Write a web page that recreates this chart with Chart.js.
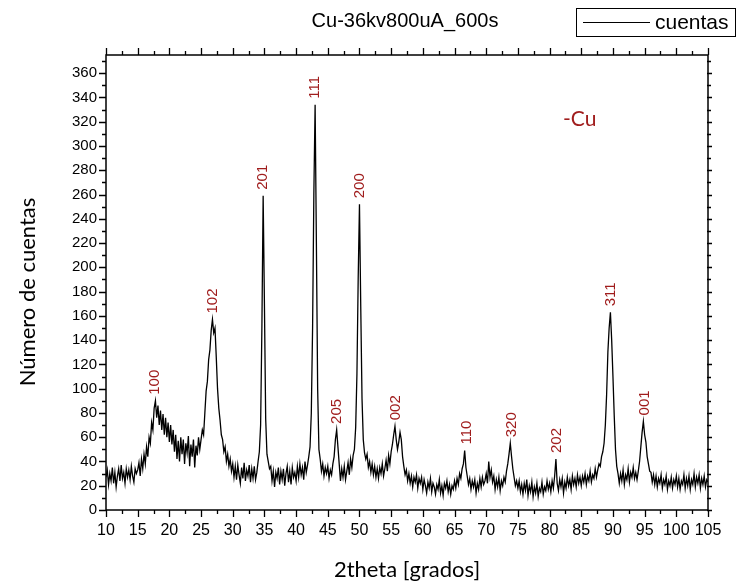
<!DOCTYPE html>
<html>
<head>
<meta charset="utf-8">
<title>Cu-36kv800uA_600s</title>
<script src="https://cdn.jsdelivr.net/npm/chart.js@4/dist/chart.umd.min.js"></script>
<style>
  html, body { margin: 0; padding: 0; background: #fff; }
  canvas { display: block; }
</style>
</head>
<body>
<canvas id="xrd" width="737" height="582"></canvas>
<script>
// Diffractogram: counts sampled every 0.2 degrees of 2theta, from 10 to 105.
const twoThetaStart = 10;
const twoThetaStep = 0.2;
const cuentas = [
  27,33,21,30,24,35,22,31,19,28,34,24,37,26,31,22,34,27,33,25,36,28,23,34,30,
  33,39,28,42,34,46,38,52,44,60,55,72,66,84,90,76,86,70,82,66,79,62,76,60,72,
  56,70,54,66,48,62,42,57,40,60,46,58,38,55,47,61,36,54,44,58,35,53,45,60,50,
  58,66,62,80,98,106,124,132,148,157,146,150,126,100,84,74,62,58,48,52,40,46,36,42,32,
  38,27,36,25,37,29,22,35,26,39,24,33,28,37,23,34,26,36,25,31,40,48,70,150,259,
  170,75,46,40,34,36,24,32,19,31,26,35,21,32,25,34,20,30,36,23,32,21,35,27,31,
  24,36,27,38,29,35,25,40,31,37,44,52,80,150,260,334,220,100,50,42,32,38,28,35,30,
  36,26,33,29,38,44,58,66,52,38,24,34,27,36,25,32,39,29,42,35,45,50,68,112,192,
  252,168,92,58,47,42,46,35,40,31,38,29,36,27,34,26,35,30,38,28,34,41,32,45,38,
  48,54,62,69,58,50,56,64,58,44,36,29,33,24,30,22,28,19,27,23,29,18,26,22,27,
  17,25,20,14,23,18,26,15,22,19,13,21,17,25,14,20,12,22,18,24,15,21,13,20,17,
  24,18,26,21,30,26,34,38,49,35,28,21,26,17,24,19,25,14,22,17,26,19,27,21,24,
  30,22,40,27,33,23,28,17,25,19,27,16,24,20,27,23,32,38,46,55,44,34,27,20,24,
  18,24,15,21,13,22,16,25,12,20,15,23,11,19,14,22,11,18,15,23,13,19,16,24,17,
  22,15,24,18,28,42,22,16,25,19,26,14,23,18,27,20,25,17,28,21,26,19,29,22,27,
  20,28,23,30,21,28,24,32,23,29,26,34,27,33,38,36,44,48,55,70,95,130,150,163,140,
  110,78,50,36,30,22,30,24,33,21,29,25,34,23,31,27,35,26,31,25,32,40,52,64,73,
  62,56,44,38,32,31,23,29,21,28,19,26,22,29,18,25,21,28,17,24,20,27,18,25,21,
  28,19,26,17,24,21,29,18,26,20,28,17,25,21,30,19,27,22,29,18,26,21,28,19,25,
  23
];

// Miller indices marked over the reflections, with their 2theta positions.
const peakLabels = ['100','102','201','111','205','200','002','110','320','202','311','001'];
const peakPositions = [17.7, 26.8, 34.8, 43.0, 46.5, 50.0, 55.8, 66.9, 74.1, 81.1, 89.7, 95.0];

// Axis tick values.
const xMajorTicks = [10,15,20,25,30,35,40,45,50,55,60,65,70,75,80,85,90,95,100,105];
const yMajorTicks = [0,20,40,60,80,100,120,140,160,180,200,220,240,260,280,300,320,340,360];

const chartTitle = 'Cu-36kv800uA_600s';
const seriesName = 'cuentas';
const xTitle = '2theta [grados]';
const yTitle = 'Número de cuentas';
const phaseNote = '-Cu';

const twoTheta = cuentas.map((_, i) => +(twoThetaStart + i * twoThetaStep).toFixed(1));
const points = twoTheta.map((x, i) => ({ x: x, y: cuentas[i] }));

const RED = '#a01d1d';
const AXIS_FONT = '"Liberation Sans", Arial, sans-serif';
const TITLE_FONT = 'Lato, "Open Sans", sans-serif';

const decorations = {
  id: 'decorations',
  afterDraw(chart) {
    const ctx = chart.ctx;
    const xs = chart.scales.x;
    const ys = chart.scales.y;
    const a = chart.chartArea;
    ctx.save();

    // frame
    ctx.strokeStyle = '#000';
    ctx.lineWidth = 1.5;
    ctx.strokeRect(a.left, a.top, a.right - a.left, a.bottom - a.top);

    // horizontal axes ticks (major every 5, minor in between)
    ctx.lineWidth = 1.3;
    ctx.beginPath();
    for (let v = 10; v <= 105.001; v += 2.5) {
      const px = Math.round(xs.getPixelForValue(v)) + 0.5;
      const major = Math.abs(v % 5) < 1e-6;
      const len = major ? 7 : 4;
      ctx.moveTo(px, a.bottom); ctx.lineTo(px, a.bottom + len);
      ctx.moveTo(px, a.top); ctx.lineTo(px, a.top - len);
    }
    // vertical axes ticks (major every 20, minor every 10)
    for (let v = 0; v <= 370; v += 10) {
      const py = Math.round(ys.getPixelForValue(v)) + 0.5;
      const major = v % 20 === 0;
      const len = major ? 7 : 4;
      ctx.moveTo(a.left, py); ctx.lineTo(a.left - len, py);
      ctx.moveTo(a.right - 1, py); ctx.lineTo(a.right + (major ? 4 : 3), py);
    }
    ctx.stroke();

    // peak indices, rotated, above the local maximum of each reflection
    ctx.fillStyle = RED;
    ctx.font = '15px ' + AXIS_FONT;
    ctx.textAlign = 'left';
    ctx.textBaseline = 'middle';
    peakLabels.forEach((lab, k) => {
      const c = peakPositions[k];
      let top = 0;
      points.forEach(p => { if (Math.abs(p.x - c) <= 0.5 && p.y > top) top = p.y; });
      const px = xs.getPixelForValue(c);
      const py = ys.getPixelForValue(top) - 6;
      ctx.save();
      ctx.translate(px, py);
      ctx.rotate(-Math.PI / 2);
      ctx.fillText(lab, 0, 0);
      ctx.restore();
    });

    // phase note
    ctx.font = '21px ' + TITLE_FONT;
    ctx.textBaseline = 'middle';
    ctx.fillText(phaseNote, 563, 119);

    // title
    ctx.fillStyle = '#000';
    ctx.font = '20px ' + AXIS_FONT;
    ctx.textAlign = 'center';
    ctx.fillText(chartTitle, 405, 21);

    // legend
    ctx.lineWidth = 1;
    ctx.strokeRect(576.5, 8.5, 159, 28);
    ctx.beginPath();
    ctx.moveTo(583, 22.5); ctx.lineTo(650, 22.5);
    ctx.stroke();
    ctx.textAlign = 'left';
    ctx.font = '21px ' + AXIS_FONT;
    ctx.fillText(seriesName, 655, 23);

    // axis titles
    ctx.font = '22px ' + TITLE_FONT;
    ctx.textAlign = 'center';
    ctx.fillText(xTitle, 407, 570);
    ctx.save();
    ctx.translate(28, 292);
    ctx.rotate(-Math.PI / 2);
    ctx.fillText(yTitle, 0, 0);
    ctx.restore();

    ctx.restore();
  }
};

new Chart(document.getElementById('xrd'), {
  type: 'line',
  data: {
    datasets: [{
      label: seriesName,
      data: points,
      borderColor: '#000',
      borderWidth: 1.3,
      pointRadius: 0,
      tension: 0,
      fill: false
    }]
  },
  options: {
    responsive: false,
    animation: false,
    layout: { padding: { top: 55, right: 29, bottom: 0, left: 0 } },
    plugins: {
      legend: { display: false },
      title: { display: false },
      tooltip: { enabled: false }
    },
    scales: {
      x: {
        type: 'linear',
        min: 10,
        max: 105,
        afterFit(s) { s.height = 72; },
        afterBuildTicks(s) { s.ticks = xMajorTicks.map(v => ({ value: v })); },
        grid: { display: false, drawTicks: false },
        border: { display: false },
        ticks: {
          color: '#000',
          font: { family: AXIS_FONT, size: 16 },
          padding: 11,
          maxRotation: 0,
          autoSkip: false
        }
      },
      y: {
        type: 'linear',
        min: 0,
        max: 375,
        afterFit(s) { s.width = 106; },
        afterBuildTicks(s) { s.ticks = yMajorTicks.map(v => ({ value: v })); },
        grid: { display: false, drawTicks: false },
        border: { display: false },
        ticks: {
          color: '#000',
          font: { family: AXIS_FONT, size: 15 },
          padding: 9,
          autoSkip: false
        }
      }
    }
  },
  plugins: [decorations]
});
</script>
</body>
</html>
